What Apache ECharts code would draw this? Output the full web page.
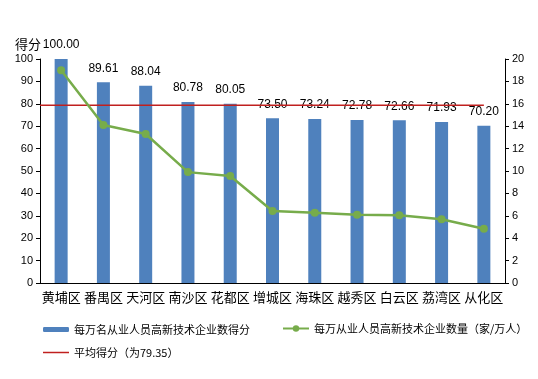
<!DOCTYPE html>
<html><head><meta charset="utf-8">
<script src="https://cdn.jsdelivr.net/npm/echarts@6/dist/echarts.min.js"></script>
<style>html,body{margin:0;padding:0;background:#fff}#c{width:538px;height:379px}</style>
</head><body><div id="c"></div>
<script>
const categories = ['黄埔区','番禺区','天河区','南沙区','花都区','增城区','海珠区','越秀区','白云区','荔湾区','从化区'];
const scores = [100.00, 89.61, 88.04, 80.78, 80.05, 73.50, 73.24, 72.78, 72.66, 71.93, 70.20];
const counts = [19.0, 14.1, 13.3, 9.9, 9.55, 6.43, 6.28, 6.1, 6.04, 5.69, 4.85];
const avgScore = 79.35;
const leftTicks = {min: 0, max: 100, interval: 10};
const rightTicks = {min: 0, max: 20, interval: 2};
const names = ['每万名从业人员高新技术企业数得分','每万从业人员高新技术企业数量（家/万人）','平均得分（为79.35）'];

const font = '"Noto Sans CJK SC", "Liberation Sans", sans-serif';
const chart = echarts.init(document.getElementById('c'));
const axisLine = {show: true, lineStyle: {color: '#000', width: 1}};
chart.setOption({
  animation: false,
  textStyle: {fontFamily: font},
  grid: {left: 40, right: 33, top: 59, bottom: 96},
  title: {text: '得分', left: 10, top: 33, textStyle: {fontSize: 13, fontWeight: 'normal', color: '#000', fontFamily: font}},
  xAxis: [
    {type: 'category', data: categories, axisLine: axisLine, axisTick: {show: false},
     axisLabel: {color: '#000', fontSize: 13, margin: 8, interval: 0, fontFamily: font}},
    {type: 'value', min: 0, max: categories.length, show: false}
  ],
  yAxis: [
    {type: 'value', min: leftTicks.min, max: leftTicks.max, interval: leftTicks.interval,
     axisLine: axisLine, axisTick: {show: true, length: 4, lineStyle: {color: '#000'}}, splitLine: {show: false},
     axisLabel: {color: '#000', fontSize: 11, margin: 7, fontFamily: '"Liberation Sans", sans-serif'}},
    {type: 'value', min: rightTicks.min, max: rightTicks.max, interval: rightTicks.interval, position: 'right',
     axisLine: axisLine, axisTick: {show: true, length: 4, lineStyle: {color: '#000'}}, splitLine: {show: false},
     axisLabel: {color: '#000', fontSize: 11, margin: 7, fontFamily: '"Liberation Sans", sans-serif'}}
  ],
  legend: [
    {left: 38, top: 319, itemWidth: 26, itemHeight: 5, itemGap: 10, data: [names[0]],
     textStyle: {fontSize: 11, color: '#000', fontFamily: font}},
    {left: 277, top: 318, itemWidth: 26, itemHeight: 8, data: [names[1]],
     textStyle: {fontSize: 11, color: '#000', fontFamily: font}},
    {left: 38, top: 342, itemWidth: 26, itemHeight: 1.5, icon: 'rect', data: [names[2]],
     textStyle: {fontSize: 11, color: '#000', fontFamily: font}}
  ],
  series: [
    {name: names[0], type: 'bar', data: scores, barWidth: 13, xAxisIndex: 0, yAxisIndex: 0,
     itemStyle: {color: '#4F81BD'},
     label: {show: true, position: 'top', distance: 8, color: '#000', fontSize: 12,
       fontFamily: '"Liberation Sans", sans-serif', formatter: p => p.value.toFixed(2)}},
    {name: names[1], type: 'line', data: counts, xAxisIndex: 0, yAxisIndex: 1,
     symbol: 'circle', symbolSize: 8, lineStyle: {color: '#77AC4B', width: 2.5},
     itemStyle: {color: '#77AC4B'}, z: 5},
    {name: names[2], type: 'line', xAxisIndex: 1, yAxisIndex: 0,
     data: [[0, avgScore], [categories.length - 0.5, avgScore]],
     symbol: 'none', lineStyle: {color: '#C0201F', width: 1.3}, itemStyle: {color: '#C0201F'}, z: 4}
  ]
});
</script></body></html>
